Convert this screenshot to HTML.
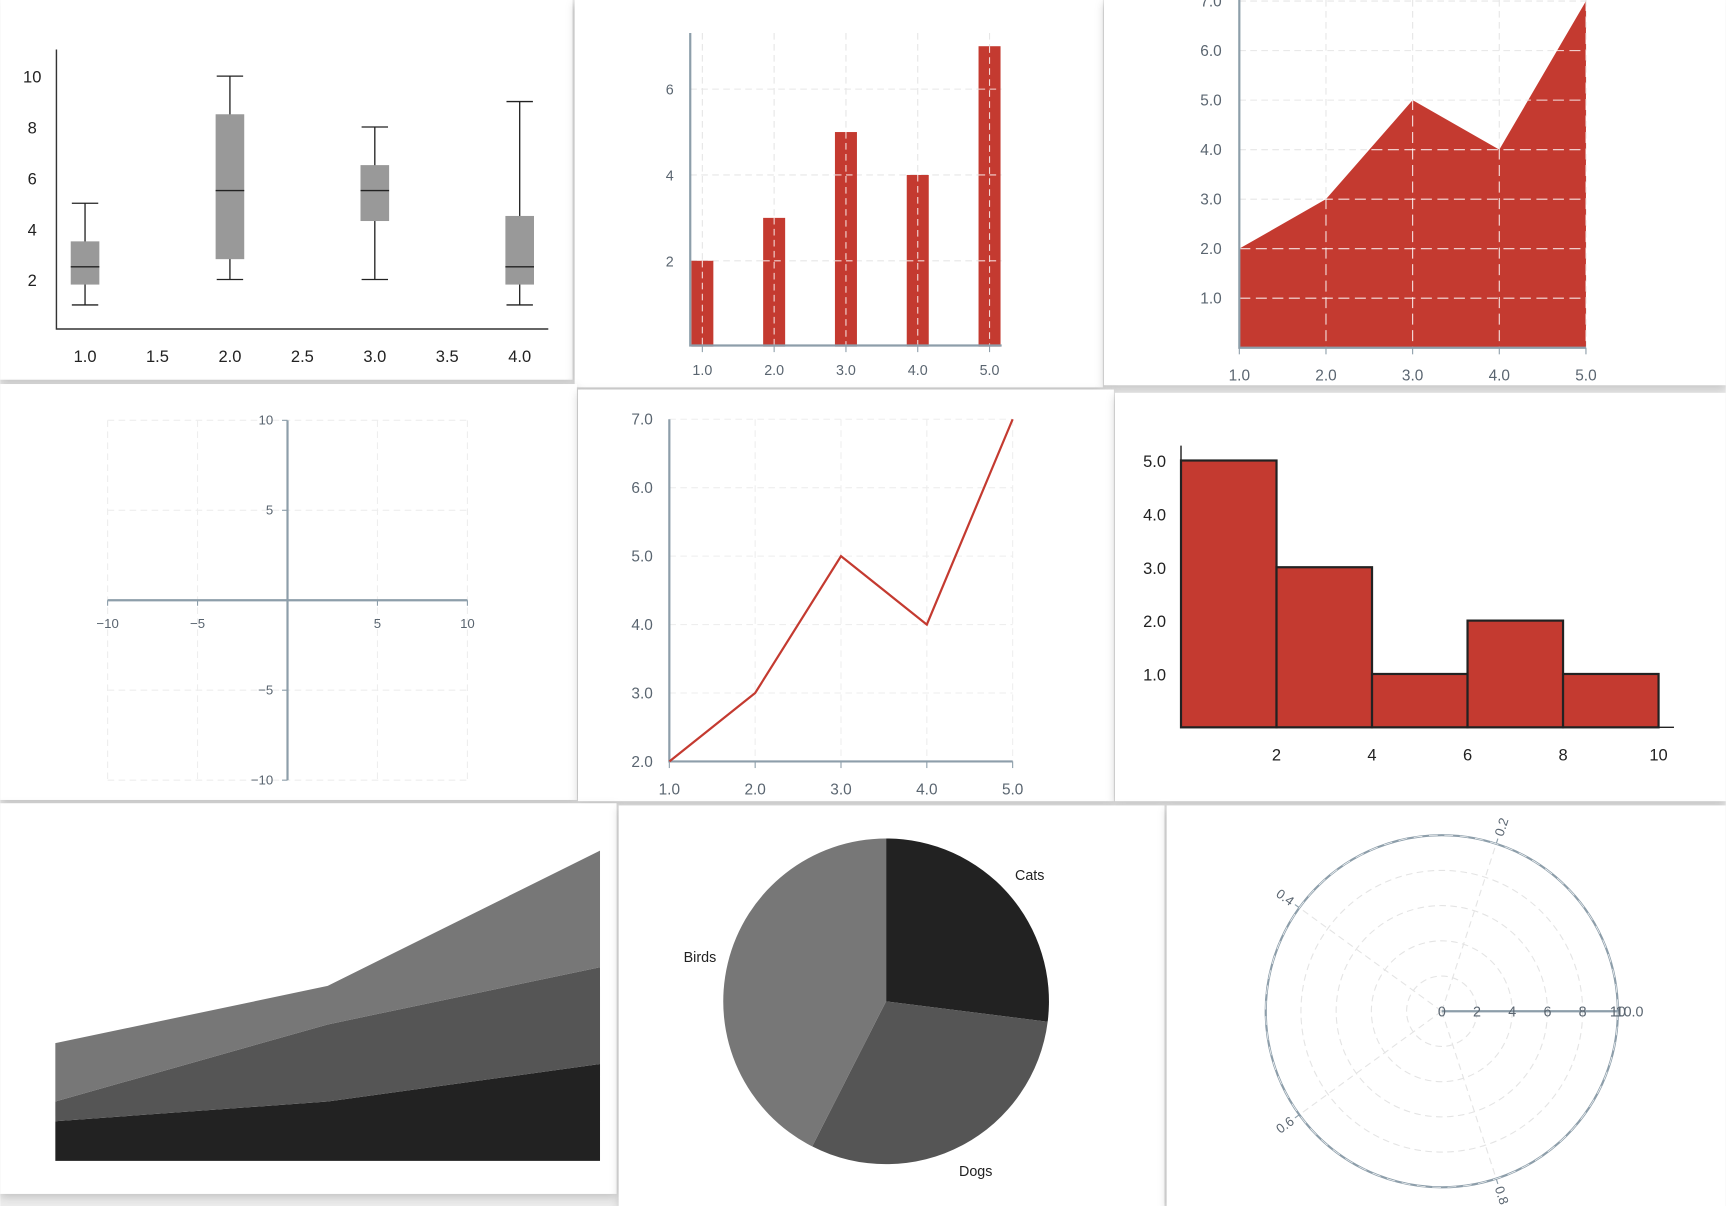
<!DOCTYPE html>
<html><head><meta charset="utf-8"><style>
html,body{margin:0;padding:0;background:#fff;}
svg{display:block;font-family:"Liberation Sans",sans-serif;}
</style></head><body>
<svg id="s" width="1726" height="1206" viewBox="0 0 1568 1096" xmlns="http://www.w3.org/2000/svg">
<defs>
<filter id="sh" x="-5%" y="-5%" width="110%" height="115%"><feDropShadow dx="0" dy="3" stdDeviation="4" flood-color="#000" flood-opacity="0.18"/></filter>
</defs>
<rect x="0" y="0" width="1568" height="1096" fill="#ececec"/>
<g id="panels"></g>
<g id="charts"></g>
</svg>
<script>
// ---- data ----
const boxCats=[1,2,3,4];
const boxLow=[1,2,2,1];
const boxQ1=[1.8,2.8,4.3,1.8];
const boxMed=[2.5,5.5,5.5,2.5];
const boxQ3=[3.5,8.5,6.5,4.5];
const boxHigh=[5,10,8,9];
const boxXTicks=["1.0","1.5","2.0","2.5","3.0","3.5","4.0"];
const boxYTicks=[2,4,6,8,10];

const barX=[1,2,3,4,5];
const barY=[2,3,5,4,7];
const barYTicks=[2,4,6];

const areaX=[1,2,3,4,5];
const areaY=[2,3,5,4,7];
const areaYTicks=["1.0","2.0","3.0","4.0","5.0","6.0","7.0"];

const quadTicks=[-10,-5,5,10];

const lineX=[1,2,3,4,5];
const lineY=[2,3,5,4,7];
const lineYTicks=["2.0","3.0","4.0","5.0","6.0","7.0"];

const histEdges=[0,2,4,6,8,10];
const histCounts=[5,3,1,2,1];
const histXTicks=[2,4,6,8,10];
const histYTicks=["1.0","2.0","3.0","4.0","5.0"];

const stackX=[0,1,2];
const stackA=[3.6,5.4,8.8];
const stackB=[1.8,7.0,8.8];
const stackC=[5.3,3.5,10.6];

const pieLabels=["Cats","Dogs","Birds"];
const pieValues=[27,30.5,42.5];

const polarRings=[2,4,6,8,10];
const polarAngles=["0.2","0.4","0.6","0.8"];

// ---- helpers ----
const NS="http://www.w3.org/2000/svg";
function mk(parent,tag,attrs,text){const e=document.createElementNS(NS,tag);for(const k in attrs)e.setAttribute(k,attrs[k]);if(text!==undefined)e.textContent=text;parent.appendChild(e);return e;}
const P=document.getElementById('panels'), C=document.getElementById('charts');
const RED="#c43a30", AX="#8d9eaa", TX="#5a6570", GRID="#e6e6e6";

const panelDefs=[[0,0,520,345],[522,0,480,352],[1003,0,565,350],[0,349,524,378],[525,354,487,374],[1013,357,555,371],[0,730,560,355],[562,732,496,364],[1060,732,508,364]];
panelDefs.forEach((p,i)=>{
 const r=mk(P,'rect',{x:p[0],y:p[1],width:p[2],height:p[3],fill:'#fff',filter:'url(#sh)'});
 
 
});

// ---- A: box plot ----
{const g=mk(C,'g',{});


const sx=v=>77+(v-1)*131.67, sy=v=>300.2-v*23.1;
const ax=mk(g,'path',{d:'M51 45V299H498',stroke:'#333','stroke-width':1.3,fill:'none'});


boxXTicks.forEach(t=>{const e=mk(g,'text',{x:sx(parseFloat(t)),y:329,'text-anchor':'middle','font-size':15,fill:'#222'},t);

});
boxYTicks.forEach(t=>{const e=mk(g,'text',{x:29,y:sy(t)+6,'text-anchor':'middle','font-size':15,fill:'#222'},t);

});
boxCats.forEach((c,i)=>{const x=sx(c);
 const w=mk(g,'path',{d:`M${x} ${sy(boxHigh[i])}V${sy(boxLow[i])}M${x-12} ${sy(boxHigh[i])}H${x+12}M${x-12} ${sy(boxLow[i])}H${x+12}`,stroke:'#222','stroke-width':1.2});
 
 
 const b=mk(g,'rect',{x:x-13,y:sy(boxQ3[i]),width:26,height:sy(boxQ1[i])-sy(boxQ3[i]),fill:'#999'});
 
 
 const m=mk(g,'line',{x1:x-13,x2:x+13,y1:sy(boxMed[i]),y2:sy(boxMed[i]),stroke:'#222','stroke-width':1.2});
 
 
});}

// ---- B: bar chart ----
{const g=mk(C,'g',{});


const sx=v=>638+(v-1)*65.25, sy=v=>315-v*39;
barX.forEach(v=>{mk(g,'line',{x1:sx(v),x2:sx(v),y1:30,y2:314,stroke:GRID,'stroke-dasharray':'6 4'});});
barYTicks.forEach(v=>{mk(g,'line',{x1:627,x2:910,y1:sy(v),y2:sy(v),stroke:GRID,'stroke-dasharray':'6 4'});});
barX.forEach((v,i)=>{const r=mk(g,'rect',{x:sx(v)-10,y:sy(barY[i]),width:20,height:sy(0)-sy(barY[i]),fill:RED});
 
 
 mk(g,'line',{x1:sx(v),x2:sx(v),y1:sy(barY[i]),y2:314,stroke:'#fff','stroke-dasharray':'6 4','stroke-opacity':0.8});
 barYTicks.forEach(t=>{if(t<barY[i])mk(g,'line',{x1:sx(v)-10,x2:sx(v)+10,y1:sy(t),y2:sy(t),stroke:'#fff','stroke-dasharray':'6 4','stroke-opacity':0.8});});
});
mk(g,'path',{d:'M627 30V314H910',stroke:AX,'stroke-width':2,fill:'none'});
barX.forEach(v=>{mk(g,'line',{x1:sx(v),x2:sx(v),y1:314,y2:320,stroke:AX});
 const e=mk(g,'text',{x:sx(v),y:341,'text-anchor':'middle','font-size':13,fill:TX},v.toFixed(1));
 
 });
barYTicks.forEach(v=>{const e=mk(g,'text',{x:612,y:sy(v)+5,'text-anchor':'end','font-size':13,fill:TX},v);
 
 });}

// ---- C: area chart ----
{const g=mk(C,'g',{});


const sx=v=>1126+(v-1)*78.75, sy=v=>316-v*45;
areaX.forEach(v=>mk(g,'line',{x1:sx(v),x2:sx(v),y1:0,y2:316,stroke:GRID,'stroke-dasharray':'6 4'}));
areaYTicks.forEach(t=>mk(g,'line',{x1:1126,x2:1441,y1:sy(+t),y2:sy(+t),stroke:GRID,'stroke-dasharray':'6 4'}));
let d='M'+sx(areaX[0])+' '+sy(0);areaX.forEach((v,i)=>d+='L'+sx(v)+' '+sy(areaY[i]));d+='L'+sx(areaX[areaX.length-1])+' '+sy(0)+'Z';
const a=mk(g,'path',{d:d,fill:RED});


const cp=mk(g,'clipPath',{id:'ac'});mk(cp,'path',{d:d});
const gg=mk(g,'g',{'clip-path':'url(#ac)'});
areaX.forEach(v=>mk(gg,'line',{x1:sx(v),x2:sx(v),y1:0,y2:316,stroke:'#fff','stroke-dasharray':'10 5','stroke-opacity':0.85}));
areaYTicks.forEach(t=>mk(gg,'line',{x1:1126,x2:1441,y1:sy(+t),y2:sy(+t),stroke:'#fff','stroke-dasharray':'10 5','stroke-opacity':0.85}));
mk(g,'path',{d:'M1126 0V316H1441',stroke:AX,'stroke-width':2,fill:'none'});
areaX.forEach(v=>{mk(g,'line',{x1:sx(v),x2:sx(v),y1:316,y2:322,stroke:AX});
 const e=mk(g,'text',{x:sx(v),y:346,'text-anchor':'middle','font-size':14,fill:TX},v.toFixed(1));
 
 });
areaYTicks.forEach(t=>{const e=mk(g,'text',{x:1110,y:sy(+t)+5,'text-anchor':'end','font-size':14,fill:TX},t);
 
 });}

// ---- D: quadrant axes ----
{const g=mk(C,'g',{});


const sx=v=>261+v*16.35, sy=v=>545.5-v*16.35;
quadTicks.forEach(v=>{mk(g,'line',{x1:sx(v),x2:sx(v),y1:sy(10),y2:sy(-10),stroke:'#eee','stroke-dasharray':'6 4'});
 mk(g,'line',{x1:sx(-10),x2:sx(10),y1:sy(v),y2:sy(v),stroke:'#eee','stroke-dasharray':'6 4'});});
mk(g,'line',{x1:sx(-10),x2:sx(10),y1:sy(0),y2:sy(0),stroke:AX,'stroke-width':2});
mk(g,'line',{x1:sx(0),x2:sx(0),y1:sy(10),y2:sy(-10),stroke:AX,'stroke-width':2});
quadTicks.forEach(v=>{mk(g,'line',{x1:sx(v),x2:sx(v),y1:sy(0),y2:sy(0)+5,stroke:AX});
 const e=mk(g,'text',{x:sx(v),y:sy(0)+25,'text-anchor':'middle','font-size':12,fill:TX},v<0?'\u2212'+(-v):v);
 
 
 mk(g,'line',{x1:sx(0)-5,x2:sx(0),y1:sy(v),y2:sy(v),stroke:AX});
 const f=mk(g,'text',{x:sx(0)-13,y:sy(v)+4,'text-anchor':'end','font-size':12,fill:TX},v<0?'\u2212'+(-v):v);
 
 });}

// ---- E: line chart ----
{const g=mk(C,'g',{});


const sx=v=>608+(v-1)*78, sy=v=>692-(v-2)*62.2;
lineX.forEach(v=>mk(g,'line',{x1:sx(v),x2:sx(v),y1:381,y2:692,stroke:'#eee','stroke-dasharray':'6 4'}));
lineYTicks.forEach(t=>mk(g,'line',{x1:608,x2:920,y1:sy(+t),y2:sy(+t),stroke:'#eee','stroke-dasharray':'6 4'}));
mk(g,'path',{d:'M608 381V692H920',stroke:AX,'stroke-width':2,fill:'none'});
const l=mk(g,'polyline',{points:lineX.map((v,i)=>sx(v)+','+sy(lineY[i])).join(' '),fill:'none',stroke:RED,'stroke-width':2});


lineX.forEach(v=>{mk(g,'line',{x1:sx(v),x2:sx(v),y1:692,y2:698,stroke:AX});
 const e=mk(g,'text',{x:sx(v),y:722,'text-anchor':'middle','font-size':14,fill:TX},v.toFixed(1));
 
 });
lineYTicks.forEach(t=>{const e=mk(g,'text',{x:593,y:sy(+t)+5,'text-anchor':'end','font-size':14,fill:TX},t);
 
 });}

// ---- F: histogram ----
{const g=mk(C,'g',{});


const sx=v=>1073+v*43.4, sy=v=>661-v*48.5;
histCounts.forEach((c,i)=>{const r=mk(g,'rect',{x:sx(histEdges[i]),y:sy(c),width:sx(histEdges[i+1])-sx(histEdges[i]),height:sy(0)-sy(c),fill:RED,stroke:'#222','stroke-width':2});
 
 });
mk(g,'path',{d:'M1073 405V661H1521',stroke:'#222','stroke-width':1.3,fill:'none'});
histXTicks.forEach(v=>{const e=mk(g,'text',{x:sx(v),y:691,'text-anchor':'middle','font-size':15,fill:'#222'},v);
 
 });
histYTicks.forEach(t=>{const e=mk(g,'text',{x:1049,y:sy(+t)+6,'text-anchor':'middle','font-size':15,fill:'#222'},t);
 
 });}

// ---- G: stacked area ----
{const g=mk(C,'g',{});


const sx=v=>50+v*247.5, sy=v=>1055-v*10;
const series=[stackA,stackB,stackC], cols=['#222','#555','#777'], names=['stack-bottom','stack-middle','stack-top'];
let base=stackX.map(()=>0);
series.forEach((s,k)=>{const top=base.map((b,i)=>b+s[i]);
 let d='M'+stackX.map((x,i)=>sx(x)+' '+sy(top[i])).join('L');
 for(let i=stackX.length-1;i>=0;i--)d+='L'+sx(stackX[i])+' '+sy(base[i]);
 const p=mk(g,'path',{d:d+'Z',fill:cols[k]});
 
 
 base=top;});}

// ---- H: pie ----
{const g=mk(C,'g',{});


const cx=805,cy=910,r=148, cols=['#222','#555','#777'];
const tot=pieValues.reduce((a,b)=>a+b,0);let a0=0;
pieValues.forEach((v,i)=>{const a1=a0+v/tot*2*Math.PI;
 const p0=[cx+r*Math.sin(a0),cy-r*Math.cos(a0)],p1=[cx+r*Math.sin(a1),cy-r*Math.cos(a1)];
 const s=mk(g,'path',{d:`M${cx} ${cy}L${p0[0]} ${p0[1]}A${r} ${r} 0 ${a1-a0>Math.PI?1:0} 1 ${p1[0]} ${p1[1]}Z`,fill:cols[i]});
 
 
 const am=(a0+a1)/2, lr=r+26;
 const t=mk(g,'text',{x:cx+lr*Math.sin(am),y:cy-lr*Math.cos(am)+5,'text-anchor':'middle','font-size':13,fill:'#222'},pieLabels[i]);
 
 
 a0=a1;});}

// ---- I: polar ----
{const g=mk(C,'g',{});


const cx=1310,cy=919, sr=v=>v*16;
polarRings.slice(0,-1).forEach(v=>mk(g,'circle',{cx:cx,cy:cy,r:sr(v),fill:'none',stroke:'#e4e4e4','stroke-dasharray':'6 4'}));
polarAngles.forEach(a=>{const th=(+a)*2*Math.PI, R=sr(10);
 mk(g,'line',{x1:cx,y1:cy,x2:cx+R*Math.cos(th),y2:cy-R*Math.sin(th),stroke:'#e4e4e4','stroke-dasharray':'6 4'});
 mk(g,'line',{x1:cx+R*Math.cos(th),y1:cy-R*Math.sin(th),x2:cx+(R+5)*Math.cos(th),y2:cy-(R+5)*Math.sin(th),stroke:AX});
 const lx=cx+(R+16)*Math.cos(th), ly=cy-(R+16)*Math.sin(th);
 let rot=-(+a)*360; if(Math.cos(th)<0) rot+=180;
 const t=mk(g,'text',{x:lx,y:ly+4,'text-anchor':'middle','font-size':12,fill:TX,transform:`rotate(${rot} ${lx} ${ly})`},a);
 
 });
mk(g,'circle',{cx:cx,cy:cy,r:sr(10),fill:'none',stroke:AX,'stroke-width':2});
mk(g,'circle',{cx:cx,cy:cy,r:sr(10),fill:'none',stroke:'#fff','stroke-width':0.6,'stroke-dasharray':'8 6'});
mk(g,'line',{x1:cx,y1:cy,x2:cx+sr(10),y2:cy,stroke:AX,'stroke-width':2});
polarRings.concat([0]).forEach(v=>{const t=mk(g,'text',{x:cx+sr(v),y:cy+5,'text-anchor':'middle','font-size':13,fill:TX},v);
 
 });
const e=mk(g,'text',{x:cx+sr(10)-2,y:cy+5,'font-size':13,fill:TX},'10.0');

}
</script>
</body></html>
